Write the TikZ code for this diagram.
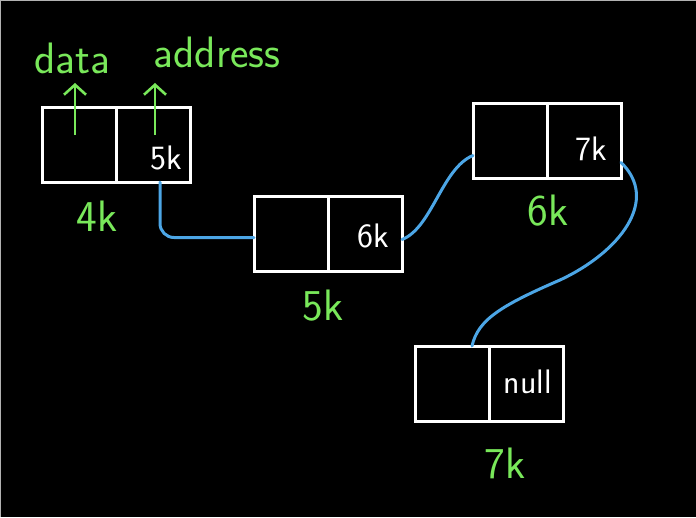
\documentclass[tikz,border=0pt]{standalone}
\usepackage{fontspec}
\usepackage{xcolor}
\usepackage{tikz}
\usetikzlibrary{arrows.meta,positioning}

\begin{document}
\begin{tikzpicture}[x=1pt,y=1pt,
  cell/.style={draw=white,line width=3pt,minimum width=74pt,minimum height=75pt,anchor=north west,inner sep=0pt,outer sep=0pt},
  hand/.style={white,font=\sffamily\fontsize{34}{38}\selectfont},
  tag/.style={chalk,font=\sffamily\fontsize{44}{48}\selectfont},
  link/.style={sky,line width=3pt,line cap=round},
  ptr/.style={chalk,line width=2.6pt,-{Straight Barb[length=10pt,width=22pt,line width=2.6pt]}}]
\definecolor{chalk}{HTML}{79E85A}
\definecolor{sky}{HTML}{4CA6E6}
% black board
\useasboundingbox[fill=black] (0,0) rectangle (696,-517);
\draw[gray!60,line width=1pt] (0,-517) -- (0,0) -- (696,0);

% Draw the four nodes of the list (data cell + address cell)
\foreach \n/\x/\y in {4/42/-107,5/254/-196,6/473/-103,7/415/-346} {
  \node[cell] (d\n) at (\x,\y) {};
  \node[cell] (a\n) at (d\n.north east) {};
}

% Field names with pointers
\node[tag] (data) at (72,-58) {data};
\node[tag] (addr) at (217,-52) {address};
\coordinate (pdata) at (75,-135);
\coordinate (paddr) at (155,-135);
\draw[ptr] (pdata) -- ([yshift=-6pt]pdata |- data.south);
\draw[ptr] (paddr) -- ([yshift=-12pt]paddr |- addr.south);

% Addresses stored in the address cells
\node[hand] (n5) at (166,-158) {5k};
\node[hand] (n6) at (373,-236) {6k};
\node[hand] (n7) at (591,-149) {7k};
\node[hand] (nnull) at (528,-382) {null};

% Location of each node
\node[tag] (l4) at (97,-216) {4k};
\node[tag] (l5) at (323,-306) {5k};
\node[tag] (l6) at (548,-211) {6k};
\node[tag] (l7) at (505,-463) {7k};

% Links between the nodes
\draw[link,rounded corners=14pt] ([xshift=7pt]a4.south) |- ([yshift=-4pt]d5.west);
\draw[link] ([yshift=-6pt]a5.east) .. controls (432,-228) and (442,-168) .. ([yshift=-15pt]d6.west);
\draw[link] ([yshift=-22pt]a6.east) .. controls (660,-200) and (620,-252) .. (560,-280)
  .. controls (500,-306) and (478,-320) .. ([xshift=20pt]d7.north);
\end{tikzpicture}
\end{document}
